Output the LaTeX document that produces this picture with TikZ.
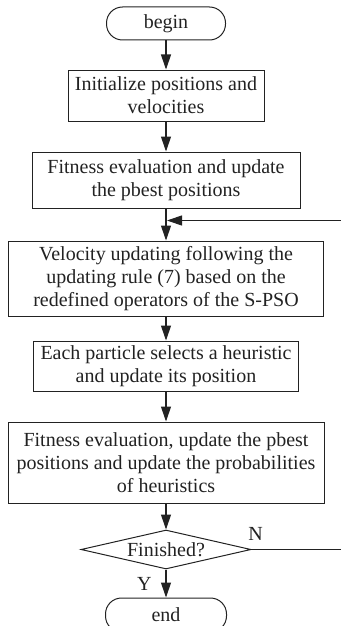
\documentclass[tikz,border=0pt]{standalone}
\usepackage{fontspec}
\setmainfont{Liberation Serif}
\usetikzlibrary{arrows.meta, positioning, calc, shapes.geometric}
\definecolor{ink}{HTML}{222222}

\begin{document}
\begin{tikzpicture}[
  x=1pt, y=-1pt,
  >={Triangle[length=15pt,width=10pt]},
  every node/.style={font=\fontsize{20}{23}\selectfont, text=ink},
  term/.style={draw=ink, line width=1pt, rounded corners=16pt,
               minimum width=119pt, minimum height=33pt, inner sep=2pt},
  proc/.style={draw=ink, line width=1pt, align=center, inner sep=3pt},
  dec/.style={draw=ink, line width=1pt, diamond, aspect=4.4, inner sep=0pt,
              minimum width=170pt, minimum height=39pt},
  lab/.style={inner sep=1pt},
  flow/.style={->, draw=ink, line width=1.1pt}
]
  \useasboundingbox (0,0) rectangle (340,626);

  \node[term] (begin) at (166,23.5) {begin};
  \node[proc, minimum width=196pt, minimum height=51pt, below=29pt of begin] (init)
    {Initialize positions and\\velocities};
  \node[proc, minimum width=268pt, minimum height=56pt, below=30pt of init] (fit1)
    {Fitness evaluation and update\\the pbest positions};
  \node[proc, minimum width=315pt, minimum height=75pt, below=32pt of fit1] (vel)
    {Velocity updating following the\\updating rule (7) based on the\\redefined operators of the S-PSO};
  \node[proc, minimum width=265pt, minimum height=50pt, below=24pt of vel] (move)
    {Each particle selects a heuristic\\and update its position};
  \node[proc, minimum width=316pt, minimum height=81pt, below=30pt of move] (fit2)
    {Fitness evaluation, update the pbest\\positions and update the probabilities\\of heuristics};
  \node[dec, below=26pt of fit2] (done) {Finished?};
  \node[term, minimum width=121pt, minimum height=34pt, below=28pt of done] (end) {end};

  \coordinate (join) at ($(fit1.south)!0.375!(vel.north)$);

  \draw[flow] (begin) -- (init);
  \draw[flow] (init)  -- (fit1);
  \draw[flow] (fit1)  -- (vel);
  \draw[flow] (vel)   -- (move);
  \draw[flow] (move)  -- (fit2);
  \draw[flow] (fit2)  -- (done);
  \draw[flow] (done)  -- node[lab, left=13pt]{Y} (end);
  \draw[draw=ink, line width=1.1pt] (done.east) -- ++(95,0) coordinate (back);
  \draw[flow, shorten >=1pt] (back) |- (join);
  \node[lab, above=8pt of done.east, xshift=4pt] (no) {N};
\end{tikzpicture}
\end{document}
